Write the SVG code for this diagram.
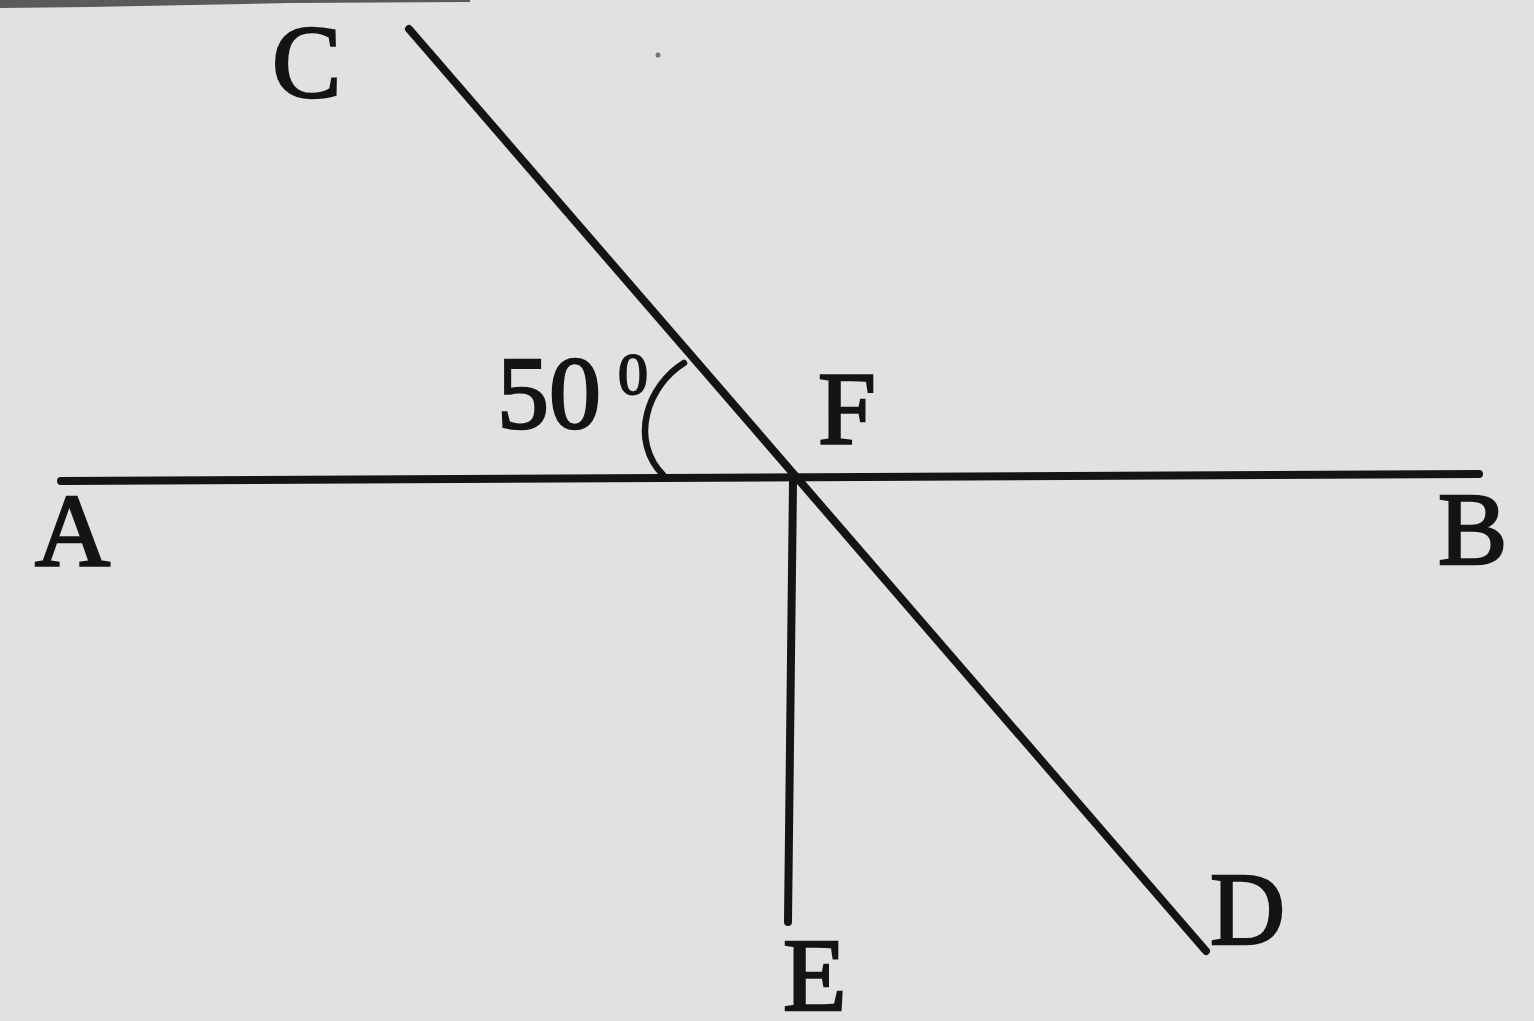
<svg xmlns="http://www.w3.org/2000/svg" width="1534" height="1021" viewBox="0 0 1534 1021">
<style>
.ln{stroke:#141414;stroke-width:8;stroke-linecap:round;fill:none}
.lbl{font-family:"Liberation Serif","Times New Roman",serif;font-size:104px;fill:#141414;stroke:#141414;stroke-width:2.5}
</style>
<rect width="1534" height="1021" fill="#e1e1e1"/>
<path d="M0,0 H470 L470,2 L290,3 L90,7 L0,8 Z" fill="#5a5a5a"/>
<circle cx="658" cy="55" r="2.5" fill="#777"/>
<g id="connectors">
<line class="ln" x1="61" y1="481" x2="1479" y2="474"/>
<line class="ln" x1="409" y1="29" x2="1206" y2="951"/>
<line class="ln" x1="793" y1="482" x2="788" y2="922"/>
<path class="ln" style="stroke-width:6.5" d="M684,363 C648,385 628,440 664,476"/>
</g>
<g id="node-C"><text class="lbl" x="272" y="97">C</text></g>
<g id="node-angle"><text class="lbl" x="497" y="428">50</text><text class="lbl" style="font-size:60px;stroke-width:2" x="618" y="394">0</text></g>
<g id="node-F"><text class="lbl" x="818" y="443">F</text></g>
<g id="node-A"><text class="lbl" x="35" y="566">A</text></g>
<g id="node-B"><text class="lbl" x="1438" y="564">B</text></g>
<g id="node-D"><text class="lbl" x="1210" y="944">D</text></g>
<g id="node-E"><text class="lbl" x="783" y="1010">E</text></g>
</svg>
